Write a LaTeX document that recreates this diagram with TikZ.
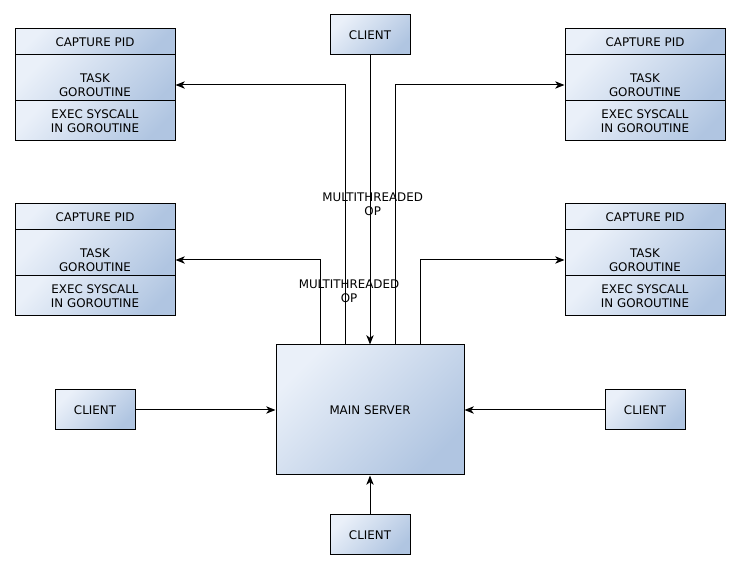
\documentclass[tikz,border=0pt]{standalone}
\usepackage{fontspec}
\setmainfont{DejaVu Sans}
\usetikzlibrary{arrows.meta}
\definecolor{boxlight}{HTML}{EAF0F9}
\definecolor{boxdark}{HTML}{B0C5E1}

\begin{document}
\begin{tikzpicture}[
		x=0.75pt, y=-0.75pt,
		font=\fontsize{8.9}{10.3}\selectfont,
		cell/.style={draw, line width=0.75pt, align=center, inner sep=0pt, minimum width=120pt, top color=boxlight, bottom color=boxdark, shading angle=45},
		capture/.style={cell, minimum height=19.5pt},
		task/.style={cell, minimum height=45pt},
		exec/.style={cell, minimum height=30pt},
		client/.style={cell, minimum width=60pt, minimum height=30pt},
		server/.style={cell, minimum width=141pt, minimum height=97.5pt},
		conn/.style={line width=0.75pt, -{Stealth[length=7pt,width=5.5pt,inset=2pt]}},
		lbl/.style={align=center, inner sep=0pt}
		]
		\useasboundingbox (0,0) rectangle (740,570);
		\node[capture] (capA) at (95,42) {CAPTURE PID};
		\node[task] (taskA) at (95,85) {TASK\\GOROUTINE};
		\node[exec] (execA) at (95,121) {EXEC SYSCALL\\IN GOROUTINE};
		\node[capture] (capB) at (645,42) {CAPTURE PID};
		\node[task] (taskB) at (645,85) {TASK\\GOROUTINE};
		\node[exec] (execB) at (645,121) {EXEC SYSCALL\\IN GOROUTINE};
		\node[capture] (capC) at (95,217) {CAPTURE PID};
		\node[task] (taskC) at (95,260) {TASK\\GOROUTINE};
		\node[exec] (execC) at (95,296) {EXEC SYSCALL\\IN GOROUTINE};
		\node[capture] (capD) at (645,217) {CAPTURE PID};
		\node[task] (taskD) at (645,260) {TASK\\GOROUTINE};
		\node[exec] (execD) at (645,296) {EXEC SYSCALL\\IN GOROUTINE};
		\node[server] (server) at (370,410) {MAIN SERVER};
		\node[client] (clientT) at (370,35) {CLIENT};
		\node[client] (clientL) at (95,410) {CLIENT};
		\node[client] (clientR) at (645,410) {CLIENT};
		\node[client] (clientB) at (370,535) {CLIENT};
		\draw[conn] (clientT) -- (server) node[lbl, midway, xshift=2pt, yshift=-3pt] {MULTITHREADED\\OP};
		\draw[conn] (clientL) -- (server);
		\draw[conn] (clientR) -- (server);
		\draw[conn] (clientB) -- (server);
		\draw[conn] ([xshift=-18.75pt]server.north) |- (taskA.east);
		\draw[conn] ([xshift=18.75pt]server.north) |- (taskB.west);
		\draw[conn] ([xshift=-37.5pt]server.north) |- (taskC.east);
		\draw[conn] ([xshift=37.5pt]server.north) |- (taskD.west);
		\node[lbl] (opB) at (349,291) {MULTITHREADED\\OP};
	\end{tikzpicture}
\end{document}
